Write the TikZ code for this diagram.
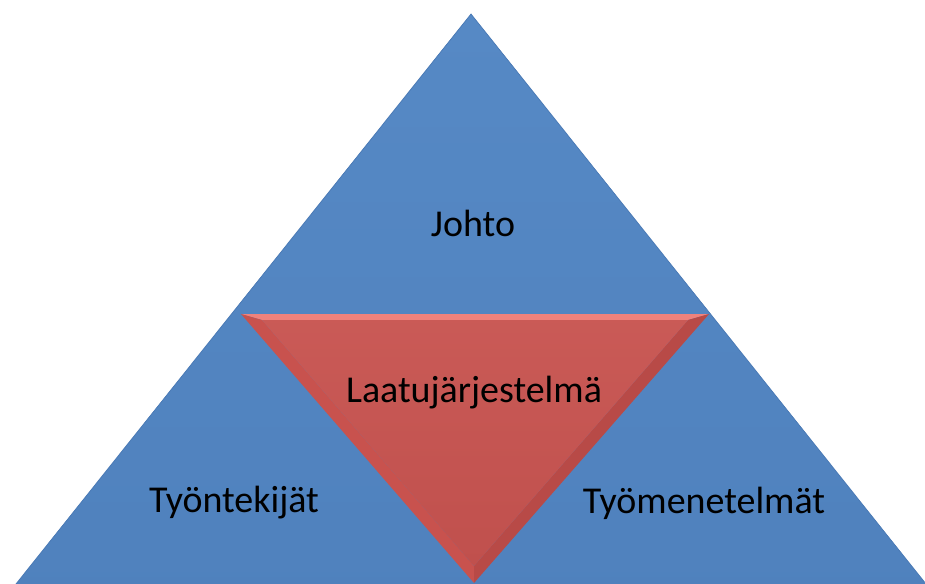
\documentclass[tikz,border=0pt]{standalone}
\usepackage{fontspec}
\setmainfont{Carlito}
\usepackage{tikz}
\usetikzlibrary{calc}
\definecolor{BL}{RGB}{79,129,189}
\definecolor{BLt}{RGB}{86,137,197}
\definecolor{BLd}{RGB}{72,120,180}
\definecolor{RD}{RGB}{192,80,77}
\definecolor{RDt}{RGB}{240,130,124}
\definecolor{RDs}{RGB}{200,82,78}
\definecolor{RDd}{RGB}{184,74,71}

\begin{document}
\begin{tikzpicture}[x=0.02cm, y=-0.02cm,
  blueface/.style={top color=BLt, bottom color=BL, draw=BLd, line width=0.4pt},
  redface/.style={top color=RD!80!RDt, bottom color=RD, draw=none},
  bevel/.style={fill=#1, draw=none},
  lbl/.style={font=\fontsize{21.6}{26}\selectfont, text=black, inner sep=0pt}
]
\clip (0,0) rectangle (925,583);
\fill[white] (0,0) rectangle (925,583);

% outer pyramid
\coordinate (apex) at (471,14);
\coordinate (bl)   at (-8,614);
\coordinate (br)   at (950,614);
\path[blueface] (apex) -- (bl) -- (br) -- cycle;

% inner inverted triangle with bevel
\coordinate (rtl) at (241,314);
\coordinate (rtr) at (709,314);
\coordinate (rb)  at (474,583);
\coordinate (itl) at (262,320);
\coordinate (itr) at (688,320);
\coordinate (ib)  at (474,566);
\fill[bevel=RDt]  (rtl) -- (rtr) -- (itr) -- (itl) -- cycle;
\fill[bevel=RDs]  (rtl) -- (itl) -- (ib) -- (rb) -- cycle;
\fill[bevel=RDd]  (rtr) -- (rb) -- (ib) -- (itr) -- cycle;
\path[redface] (itl) -- (itr) -- (ib) -- cycle;

\node[lbl] (johto)  at (473,223) {Johto};
\node[lbl] (laatu)  at (474,393) {Laatujärjestelmä};
\node[lbl] (tyont)  at (234,503) {Työntekijät};
\node[lbl] (tyomen) at (704,503) {Työmenetelmät};
\end{tikzpicture}
\end{document}
